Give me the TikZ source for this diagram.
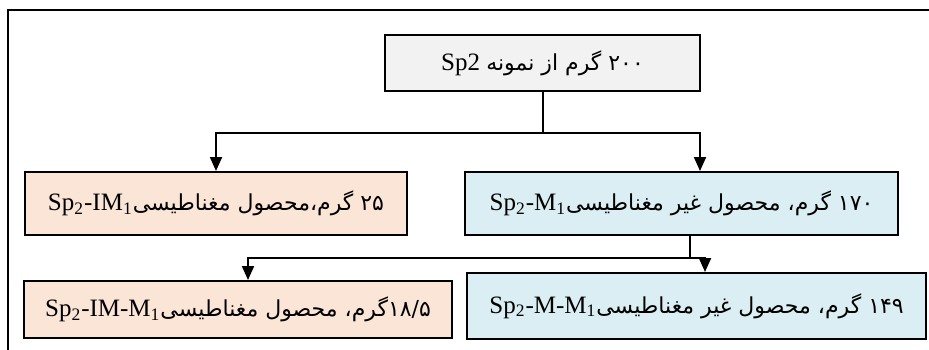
\documentclass[tikz,border=0pt]{standalone}
\usepackage{xcolor}
\usepackage{fontspec}
\setmainfont{Liberation Serif}
\newfontfamily\arabicfont[Script=Arabic,Scale=0.88]{DejaVu Sans}
\TeXXeTstate=1
\usepackage{tikz}
\usetikzlibrary{arrows.meta}

\definecolor{samplefill}{HTML}{F2F2F2}
\definecolor{magfill}{HTML}{FBE5D6}
\definecolor{nonmagfill}{HTML}{DAEEF3}

\begin{document}
\begin{tikzpicture}[x=0.5pt,y=-0.5pt,>={Triangle[width=6pt,length=7pt]},line width=1pt]
\tikzstyle{box}=[draw, line width=1pt, align=center, inner sep=0pt, font=\fontsize{12.5}{14}\selectfont]
\clip (0,0) rectangle (929,349);
% outer frame
\draw[line width=1.4pt] (8,360) -- (8,10) -- (940,10);

\node[box, fill=samplefill, minimum width=157.5pt, minimum height=28pt] (sample) at (542.5,63)
  {\beginR{\arabicfont ۲۰۰ گرم از نمونه} \beginL Sp2\endL{}\endR};
\node[box, fill=magfill, minimum width=191pt, minimum height=31.5pt] (mag1) at (216,203.5)
  {\beginR{\arabicfont ۲۵ گرم،محصول مغناطیسی}\beginL Sp\textsubscript{2}-IM\textsubscript{1}\endL{}\endR};
\node[box, fill=nonmagfill, minimum width=216.5pt, minimum height=31.5pt] (nonmag1) at (681.5,203.5)
  {\beginR{\arabicfont ۱۷۰ گرم، محصول غیر مغناطیسی}\beginL Sp\textsubscript{2}-M\textsubscript{1}\endL{}\endR};
\node[box, fill=magfill, minimum width=214pt, minimum height=28.5pt] (mag2) at (238,309.5)
  {\beginR{\arabicfont ۱۸/۵گرم، محصول مغناطیسی}\beginL Sp\textsubscript{2}-IM-M\textsubscript{1}\endL{}\endR};
\node[box, fill=nonmagfill, minimum width=229.5pt, minimum height=33pt] (nonmag2) at (696.5,306)
  {\beginR{\arabicfont ۱۴۹ گرم، محصول غیر مغناطیسی}\beginL Sp\textsubscript{2}-M-M\textsubscript{1}\endL{}\endR};

% first split
\coordinate (split1) at (sample.south |- 0,133);
\draw (sample.south) -- (split1);
\draw[->] (split1) -| (mag1.north);
\draw[->] (split1) -| (700,0 |- nonmag1.north);
% second split
\coordinate (split2) at (690,258);
\draw (690,0 |- nonmag1.south) -- (split2);
\draw[->] (split2) -| (248,0 |- mag2.north);
\draw[->] (split2) -| (705,0 |- nonmag2.north);
\end{tikzpicture}
\end{document}
